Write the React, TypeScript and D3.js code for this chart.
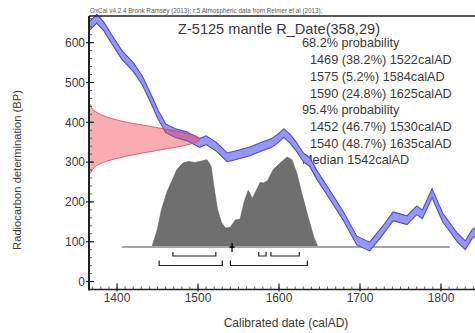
import React from "react";
import * as d3 from "d3";

// calibration curve (IntCal)
const curveYears = [1365, 1375, 1384, 1394, 1406, 1420, 1431, 1441, 1451, 1460, 1472, 1486, 1502, 1510, 1523, 1536, 1546, 1564, 1580, 1591, 1599, 1606, 1614, 1621, 1630, 1638, 1647, 1663, 1679, 1696, 1712, 1728, 1741, 1758, 1770, 1777, 1789, 1802, 1820, 1830, 1838, 1848];
const curveBP = [640, 660, 640, 607, 569, 539, 506, 463, 418, 385, 373, 365, 348, 355, 338, 312, 317, 327, 340, 348, 360, 373, 358, 340, 312, 300, 267, 217, 166, 103, 88, 128, 164, 154, 179, 169, 222, 161, 111, 91, 118, 134];
const curveSigma = 11;

// calibrated probability distribution (relative)
const distYears = [1443, 1450, 1455, 1462, 1468, 1474, 1481, 1488, 1496, 1502, 1511, 1516, 1520, 1524, 1529, 1534, 1540, 1546, 1552, 1557, 1562, 1567, 1572, 1577, 1581, 1586, 1593, 1601, 1610, 1616, 1622, 1628, 1636, 1643, 1648];
const distProb = [0, 0.2, 0.42, 0.62, 0.74, 0.86, 0.93, 0.95, 0.94, 0.95, 0.97, 0.9, 0.65, 0.42, 0.27, 0.21, 0.22, 0.3, 0.31, 0.5, 0.63, 0.54, 0.63, 0.72, 0.71, 0.74, 0.86, 0.93, 1.0, 0.97, 0.82, 0.6, 0.33, 0.11, 0];

// radiocarbon measurement R_Date(358,29), relative likelihood
const likeBP = [271, 285, 300, 314, 329, 343, 358, 372, 387, 401, 416, 430, 445];
const likeProb = [0.011, 0.044, 0.135, 0.325, 0.607, 0.882, 1, 0.882, 0.607, 0.325, 0.135, 0.044, 0.011];

const range68 = [[1469, 1522], [1575, 1584], [1590, 1625]];
const range95 = [[1452, 1530], [1540, 1635]];
const median = 1542;
const calcRange = [1406, 1811];

const yTicks = [0, 100, 200, 300, 400, 500, 600];
const xTicks = [1400, 1500, 1600, 1700, 1800];

const title = "Z-5125 mantle R_Date(358,29)";
const header = "OxCal v4.2.4 Bronk Ramsey (2013); r:5 Atmospheric data from Reimer et al (2013);";
const probLines = [
  { text: "68.2% probability", indent: false },
  { text: "1469 (38.2%) 1522calAD", indent: true },
  { text: "1575 (5.2%) 1584calAD", indent: true },
  { text: "1590 (24.8%) 1625calAD", indent: true },
  { text: "95.4% probability", indent: false },
  { text: "1452 (46.7%) 1530calAD", indent: true },
  { text: "1540 (48.7%) 1635calAD", indent: true },
  { text: "Median 1542calAD", indent: false },
];

const W = 475;
const H = 333;
const left = 89;
const top = 16;
const bottom = 289.5;
const font = "'Liberation Sans', Arial, sans-serif";
const textColor = "#3a3a3a";

export default function App() {
  const x = d3.scaleLinear().domain([1365.4, 1842]).range([left, W]);
  const y = d3.scaleLinear().domain([-20, 667]).range([bottom, top]);

  const distBase = 247;
  const distH = d3.scaleLinear().domain([0, 1]).range([0, 90]);
  const likeW = d3.scaleLinear().domain([0, 1]).range([left, left + 111]);

  const curve = curveYears.map((yr, i) => ({ yr, bp: curveBP[i] }));
  const band = d3
    .area<{ yr: number; bp: number }>()
    .x((d) => x(d.yr))
    .y0((d) => y(d.bp - curveSigma))
    .y1((d) => y(d.bp + curveSigma));
  const upper = d3
    .line<{ yr: number; bp: number }>()
    .x((d) => x(d.yr))
    .y((d) => y(d.bp + curveSigma));
  const lower = d3
    .line<{ yr: number; bp: number }>()
    .x((d) => x(d.yr))
    .y((d) => y(d.bp - curveSigma));

  const dist = distYears.map((yr, i) => ({ yr, p: distProb[i] }));
  const distArea = d3
    .area<{ yr: number; p: number }>()
    .x((d) => x(d.yr))
    .y0(distBase)
    .y1((d) => distBase - distH(d.p));

  const like = likeBP.map((bp, i) => ({ bp, p: likeProb[i] }));
  const likeArea = d3
    .area<{ bp: number; p: number }>()
    .y((d) => y(d.bp))
    .x0(left)
    .x1((d) => likeW(d.p))
    .curve(d3.curveMonotoneY);

  const xMinor = d3.range(1370, 1850, 10);
  const yMinor = d3.range(-20, 667, 20);

  const bracket = (r: number[], yy: number, h: number, key: string) => (
    <path
      key={key}
      d={`M${x(r[0])},${yy - h}V${yy}H${x(r[1])}V${yy - h}`}
      fill="none"
      stroke="#222"
      strokeWidth={1.2}
    />
  );

  const lineStep = 16.7;

  return (
    <svg
      width={W}
      height={H}
      style={{ position: "absolute", left: 0, top: 0, background: "#fff" }}
      fontFamily={font}
    >
      <text x={left + 1} y={top - 3} fontSize={6.3} fill="#555">
        {header}
      </text>

      {/* gray calibrated distribution */}
      <path d={distArea(dist) ?? ""} fill="#6f6f6f" stroke="#5c5c5c" strokeWidth={0.6} />
      <line
        x1={x(calcRange[0])}
        x2={x(calcRange[1])}
        y1={distBase}
        y2={distBase}
        stroke="#a4a4a4"
        strokeWidth={2}
      />
      {range68.map((r, i) => bracket(r, 256, 4, "s1" + i))}
      {range95.map((r, i) => bracket(r, 265.5, 5, "s2" + i))}
      <path
        d={`M${x(median)},${distBase - 4}V${distBase + 5}M${x(median) - 2.5},${distBase}H${x(median) + 2.5}`}
        stroke="#000"
        strokeWidth={1.3}
      />

      {/* text block */}
      <text x={178} y={34} fontSize={14.6} fill={textColor}>
        {title}
      </text>
      {probLines.map((l, i) => (
        <text
          key={i}
          x={l.indent ? 310 : 302}
          y={43 + i * lineStep + 4.4}
          fontSize={12.7}
          fill={textColor}
        >
          {l.text}
        </text>
      ))}

      {/* calibration curve */}
      <path d={band(curve) ?? ""} fill="#9696f4" />
      <path d={upper(curve) ?? ""} fill="none" stroke="#4a4ad6" strokeWidth={1.1} />
      <path d={lower(curve) ?? ""} fill="none" stroke="#4a4ad6" strokeWidth={1.1} />

      {/* measurement likelihood */}
      <path
        d={likeArea(like) ?? ""}
        fill="rgba(240,70,85,0.45)"
        stroke="#d2404f"
        strokeWidth={0.8}
      />

      {/* axes */}
      <line x1={left} x2={W} y1={top} y2={top} stroke="#222" strokeWidth={1.6} />
      <line x1={left} x2={left} y1={top} y2={bottom + 1} stroke="#222" strokeWidth={2} />
      <line x1={left} x2={W} y1={bottom} y2={bottom} stroke="#222" strokeWidth={1.6} />
      {yMinor.map((v) => (
        <line key={"ym" + v} x1={left} x2={left + 3} y1={y(v)} y2={y(v)} stroke="#333" strokeWidth={0.8} />
      ))}
      {yTicks.map((v) => (
        <g key={"y" + v}>
          <line x1={left - 3} x2={left + 5} y1={y(v)} y2={y(v)} stroke="#222" strokeWidth={1.2} />
          <text x={85} y={y(v) + 4.3} textAnchor="end" fontSize={12} fill={textColor}>
            {v}
          </text>
        </g>
      ))}
      {xMinor.map((v) => (
        <line key={"xm" + v} x1={x(v)} x2={x(v)} y1={bottom - 3} y2={bottom} stroke="#333" strokeWidth={0.8} />
      ))}
      {xTicks.map((v) => (
        <g key={"x" + v}>
          <line x1={x(v)} x2={x(v)} y1={bottom - 6} y2={bottom + 2} stroke="#222" strokeWidth={1.2} />
          <text x={x(v)} y={bottom + 12} textAnchor="middle" fontSize={12} fill={textColor}>
            {v}
          </text>
        </g>
      ))}
      <text x={286} y={327} textAnchor="middle" fontSize={12} fill={textColor}>
        Calibrated date (calAD)
      </text>
      <text
        transform={`translate(21,170) rotate(-90)`}
        textAnchor="middle"
        fontSize={11.2}
        fill={textColor}
      >
        Radiocarbon determination (BP)
      </text>
    </svg>
  );
}
